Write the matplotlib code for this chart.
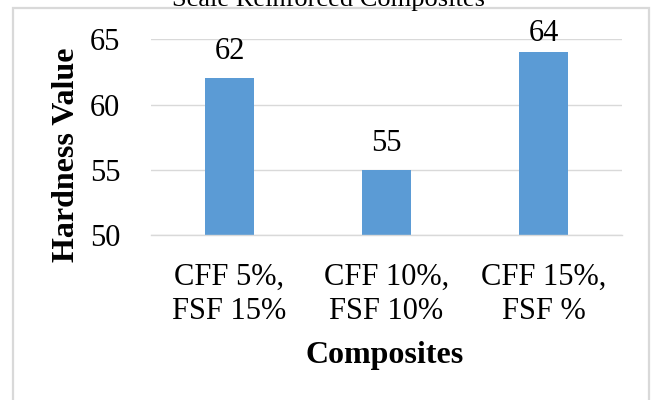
import matplotlib
matplotlib.use("Agg")
import matplotlib.pyplot as plt
from matplotlib.patches import Rectangle

plt.rcParams['font.family'] = ['Liberation Serif', 'DejaVu Serif']

# Data
categories = ["CFF 5%,\nFSF 15%", "CFF 10%,\nFSF 10%", "CFF 15%,\nFSF %"]
hardness = [62, 55, 64]
y_ticks = [50, 55, 60, 65]
title = "Scale Reinforced Composites"
x_label = "Composites"
y_label = "Hardness Value"

W, H, DPI = 652, 400, 100
BAR_COLOR = "#5B9BD5"
GRID_COLOR = "#D9D9D9"
FS = 22


def px_box(left, top, right, bottom):
    """Axes rectangle from pixel edges measured from the top-left corner."""
    return [left / W, 1 - bottom / H, (right - left) / W, (bottom - top) / H]


fig = plt.figure(figsize=(W / DPI, H / DPI), dpi=DPI)
fig.patch.set_facecolor("white")

# chart frame
frame = Rectangle((12.5 / W, -0.05), (649 - 12.5) / W, 391.7 / H + 0.05,
                  transform=fig.transFigure, fill=False, ec=GRID_COLOR,
                  lw=1.6, clip_on=False)
fig.add_artist(frame)

ax = fig.add_axes(px_box(151, 39.3, 622, 235))
x = list(range(len(categories)))
ax.bar(x, hardness, width=0.318, color=BAR_COLOR, edgecolor="none", zorder=2)

ax.set_xlim(-0.5, len(categories) - 0.5)
ax.set_ylim(min(y_ticks), max(y_ticks))
ax.set_yticks(y_ticks)
ax.set_xticks(x)
ax.set_xticklabels(categories, fontsize=FS, linespacing=1.22)
ax.tick_params(axis="y", length=0, pad=22, labelsize=FS)
ax.tick_params(axis="x", length=0, pad=20)

ax.grid(axis="y", color=GRID_COLOR, lw=1.0, zorder=0)
ax.set_axisbelow(True)
for side in ("top", "right", "left"):
    ax.spines[side].set_visible(False)
ax.spines["bottom"].set_color(GRID_COLOR)
ax.spines["bottom"].set_linewidth(1.0)

# value labels above each bar, kept inside the chart frame
fig.canvas.draw()
for xi, v in zip(x, hardness):
    bar_top = ax.transData.transform((xi, v))[1]
    baseline = min(bar_top + 19, H - 41)
    off_pt = (baseline - bar_top) * 72 / DPI
    ax.annotate(str(v), xy=(xi, v), xytext=(0, off_pt),
                textcoords="offset points", ha="center", va="baseline",
                fontsize=FS, annotation_clip=False)

ax.set_xlabel(x_label, fontsize=FS + 1, fontweight="bold", va="baseline")
ax.xaxis.set_label_coords(384.5 / W, 37 / H, transform=fig.transFigure)
ax.set_ylabel(y_label, fontsize=FS + 1, fontweight="bold", va="center",
              ha="center")
ax.yaxis.set_label_coords(66 / W, 1 - 154.5 / H, transform=fig.transFigure)

fig.text(329 / W, 1 - 6 / H, title, ha="center", va="baseline", fontsize=19)

fig.savefig("out.png", dpi=DPI, facecolor="white")
